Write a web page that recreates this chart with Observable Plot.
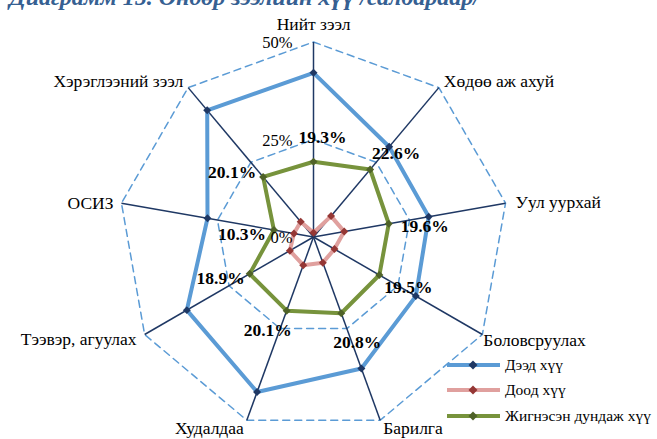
<!DOCTYPE html>
<html><head><meta charset="utf-8">
<script src="https://cdn.jsdelivr.net/npm/d3@7"></script>
<script src="https://cdn.jsdelivr.net/npm/@observablehq/plot@0.6"></script>
<style>
html,body{margin:0;padding:0;background:#fff;overflow:hidden;width:657px;height:439px;}
#wrap{position:relative;width:657px;height:439px;overflow:hidden;}
#title{position:absolute;right:177px;top:-16px;white-space:nowrap;font-style:italic;font-weight:bold;font-size:24px;line-height:26px;font-family:"Liberation Serif",serif;color:#366092;}
#legend{position:absolute;left:447px;top:352px;font-size:15.5px;font-family:"Liberation Serif",serif;color:#000;}
.row{display:flex;align-items:center;height:25.5px;}
.row svg{display:block;margin-right:0;}
svg text{font-family:"Liberation Serif",serif;}
</style></head><body>
<div id="wrap"><div id="chart"></div><div id="title">Диаграмм 15. Өндөр зээлийн хүү /салбараар/</div><div id="legend"></div></div>
<script>
const categories = ["Нийт зээл","Хөдөө аж ахуй","Уул уурхай","Боловсруулах","Барилга","Худалдаа","Тээвэр, агуулах","ОСИЗ","Хэрэглээний зээл"];
const upperRate = [42.1, 30.2, 30.0, 30.3, 35.9, 42.3, 37.5, 27.6, 42.4];
const lowerRate = [1.1, 7.0, 8.0, 6.2, 7.0, 7.7, 7.0, 5.1, 5.1];
const weightedAvg = [19.3, 22.6, 19.6, 19.5, 20.8, 20.1, 18.9, 10.3, 20.1];
const ringTicks = [0, 25, 50];
const tickLabels = ["0%", "25%", "50%"];
const seriesNames = ["Дээд хүү", "Доод хүү", "Жигнэсэн дундаж хүү"];

const N = categories.length;
const rMax = d3.max(ringTicks);
const ang = i => i * 2 * Math.PI / N;
const px = (r, i) => r * Math.sin(ang(i));
const py = (r, i) => r * Math.cos(ang(i));
const closedPts = vals => d3.range(N + 1).map(k => { const i = k % N; return {x: px(vals[i], i), y: py(vals[i], i)}; });
const openPts = vals => d3.range(N).map(i => ({x: px(vals[i], i), y: py(vals[i], i), v: vals[i]}));

const styles = [
  {line: "#5B9BD5", dot: "#1F3864"},
  {line: "#E0A09E", dot: "#953735"},
  {line: "#77933C", dot: "#4F6228"}
];
const seriesVals = [upperRate, lowerRate, weightedAvg];
const FONT = "'Liberation Serif', serif";

const catOffsets = [[0,-18,"middle"],[5,-6,"start"],[10,-1,"start"],[1,6,"start"],[3,8,"start"],[-3,8,"end"],[-8,5,"end"],[-8,0,"end"],[-5,-6,"end"]];
const valOffsets = [[9,-24],[26,-16],[36,3],[29,12],[16,29],[-19,20],[-29,5],[-32,4],[-31,-5]];

const marks = [];
ringTicks.filter(r => r > 0).forEach(r => {
  marks.push(Plot.line(closedPts(Array(N).fill(r)), {x: "x", y: "y", stroke: "#5B9BD5", strokeWidth: 1.5, strokeDasharray: "7,5"}));
});
marks.push(Plot.link(d3.range(N), {x1: () => 0, y1: () => 0, x2: i => px(rMax, i), y2: i => py(rMax, i), stroke: "#1F3864", strokeWidth: 1.5}));
seriesVals.forEach((vals, s) => {
  marks.push(Plot.line(closedPts(vals), {x: "x", y: "y", stroke: styles[s].line, strokeWidth: 4, strokeLinejoin: "round"}));
  marks.push(Plot.dot(openPts(vals), {x: "x", y: "y", symbol: "diamond2", r: 3.6, fill: styles[s].dot, stroke: "none"}));
});
marks.push(Plot.text(ringTicks, {x: () => 0, y: d => d, text: (d, i) => tickLabels[i], textAnchor: "end", dx: -21, dy: 1, fontSize: 16.5, fontFamily: FONT, fill: "#000"}));
categories.forEach((c, i) => {
  const [dx, dy, anchor] = catOffsets[i];
  marks.push(Plot.text([c], {x: () => px(rMax, i), y: () => py(rMax, i), text: d => d, dx, dy, textAnchor: anchor, fontSize: 17.5, fontFamily: FONT, fill: "#000"}));
});
weightedAvg.forEach((v, i) => {
  const [dx, dy] = valOffsets[i];
  marks.push(Plot.text([v], {x: () => px(v, i), y: () => py(v, i), text: d => d.toFixed(1) + "%", dx, dy, fontSize: 17.5, fontWeight: "bold", fontFamily: FONT, fill: "#000"}));
});

const k = 3.9;
const cx = 313, cy = 236.5, W = 657, H = 439;
const chart = Plot.plot({
  width: W, height: H,
  marginTop: 0, marginBottom: 0, marginLeft: 0, marginRight: 0,
  x: {domain: [-cx / k, (W - cx) / k], axis: null},
  y: {domain: [-(H - cy) / k, cy / k], axis: null},
  style: {fontFamily: FONT, fontSize: "16px", background: "#fff", color: "#000", overflow: "visible"},
  marks
});
document.getElementById("chart").appendChild(chart);

const legend = document.getElementById("legend");
seriesNames.forEach((name, s) => {
  const row = document.createElement("div");
  row.className = "row";
  row.innerHTML = `<svg width="58" height="12"><line x1="0" x2="53" y1="6" y2="6" stroke="${styles[s].line}" stroke-width="4"/><path d="M26,1.5L30.5,6L26,10.5L21.5,6Z" fill="${styles[s].dot}"/></svg><span>${name}</span>`;
  legend.appendChild(row);
});
</script>
</body></html>
